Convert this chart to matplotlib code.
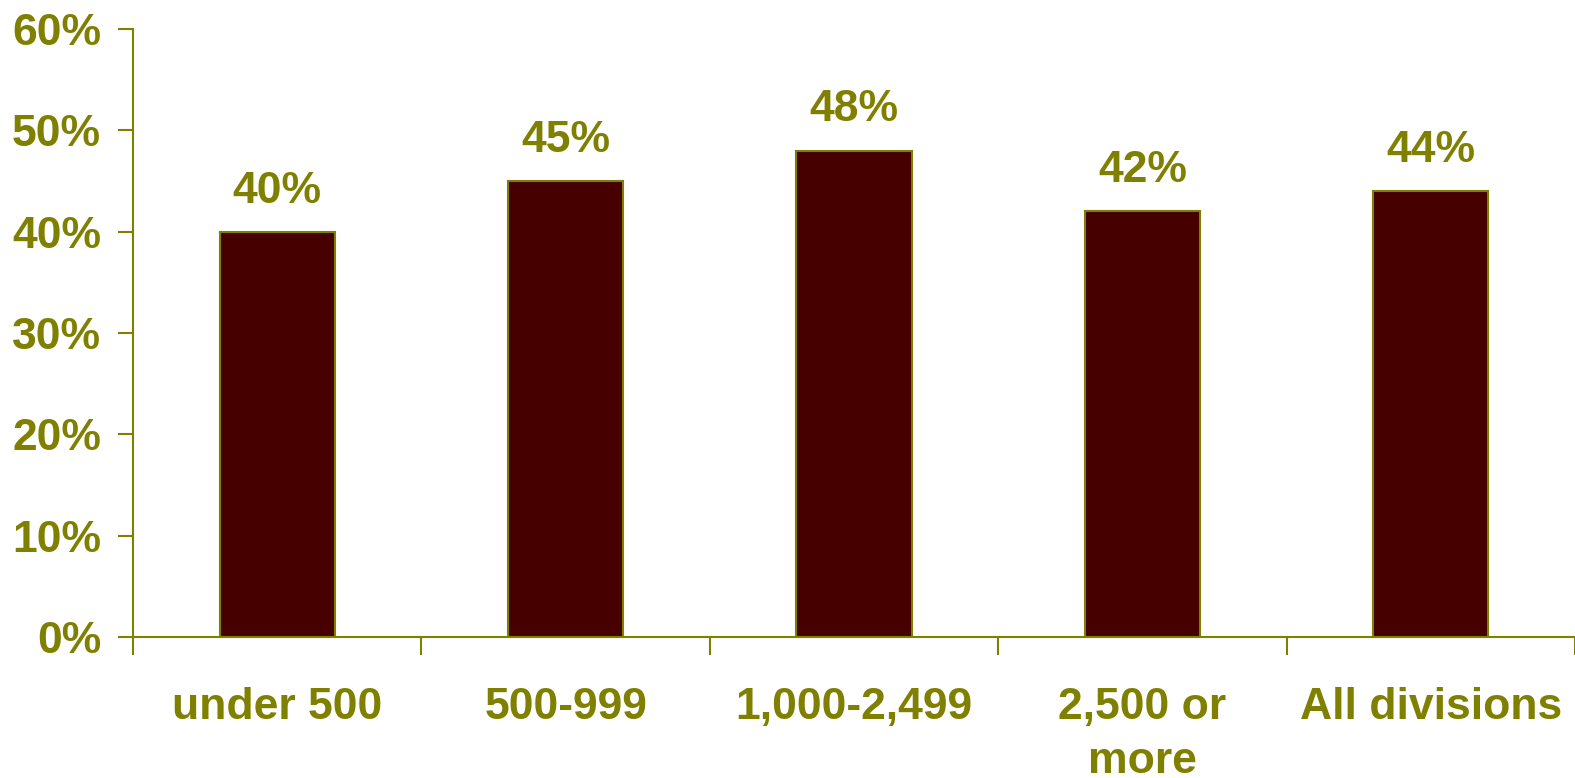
import matplotlib
matplotlib.use("Agg")
import matplotlib.pyplot as plt
from matplotlib.ticker import FixedLocator, PercentFormatter

categories = ["under 500", "500-999", "1,000-2,499", "2,500 or\nmore", "All divisions"]
values = [40, 45, 48, 42, 44]
yticks = [0, 10, 20, 30, 40, 50, 60]

OLIVE = "#808000"
BAR = "#460000"
FS = 32

plt.rcParams["font.family"] = ["Liberation Sans", "DejaVu Sans"]
plt.rcParams["font.weight"] = "bold"

fig = plt.figure(figsize=(15.75, 7.78), dpi=100)
ax = fig.add_axes([133 / 1575, 141 / 778, 1 - 133 / 1575, (637 - 29) / 778])

x = list(range(len(categories)))
ax.bar(x, values, width=0.4, color=BAR, edgecolor=OLIVE, linewidth=1.5, zorder=3)

for xi, v in zip(x, values):
    ax.annotate(f"{v}%", xy=(xi, v), xytext=(0, 21), textcoords="offset points",
                ha="center", va="baseline", color=OLIVE, fontsize=FS, fontweight="bold")

ax.set_xlim(-0.5, len(categories) - 0.5)
ax.set_ylim(0, 60)
ax.set_yticks(yticks)
ax.yaxis.set_major_formatter(PercentFormatter(decimals=0))

ax.set_xticks(x)
ax.set_xticklabels(categories, fontsize=FS, fontweight="bold", color=OLIVE,
                   va="top", linespacing=1.42)
ax.xaxis.set_minor_locator(FixedLocator([i - 0.5 for i in range(len(categories) + 1)]))
ax.tick_params(axis="x", which="major", length=0, pad=36)
ax.tick_params(axis="x", which="minor", length=13, width=1.5, color=OLIVE, direction="out")
ax.tick_params(axis="y", length=11, width=1.5, color=OLIVE, direction="out",
               pad=12, labelsize=FS, labelcolor=OLIVE)
for lab in ax.get_yticklabels():
    lab.set_fontweight("bold")

for side in ("top", "right"):
    ax.spines[side].set_visible(False)
for side in ("left", "bottom"):
    ax.spines[side].set_color(OLIVE)
    ax.spines[side].set_linewidth(1.5)

fig.savefig("out.png", dpi=100, facecolor="white")
